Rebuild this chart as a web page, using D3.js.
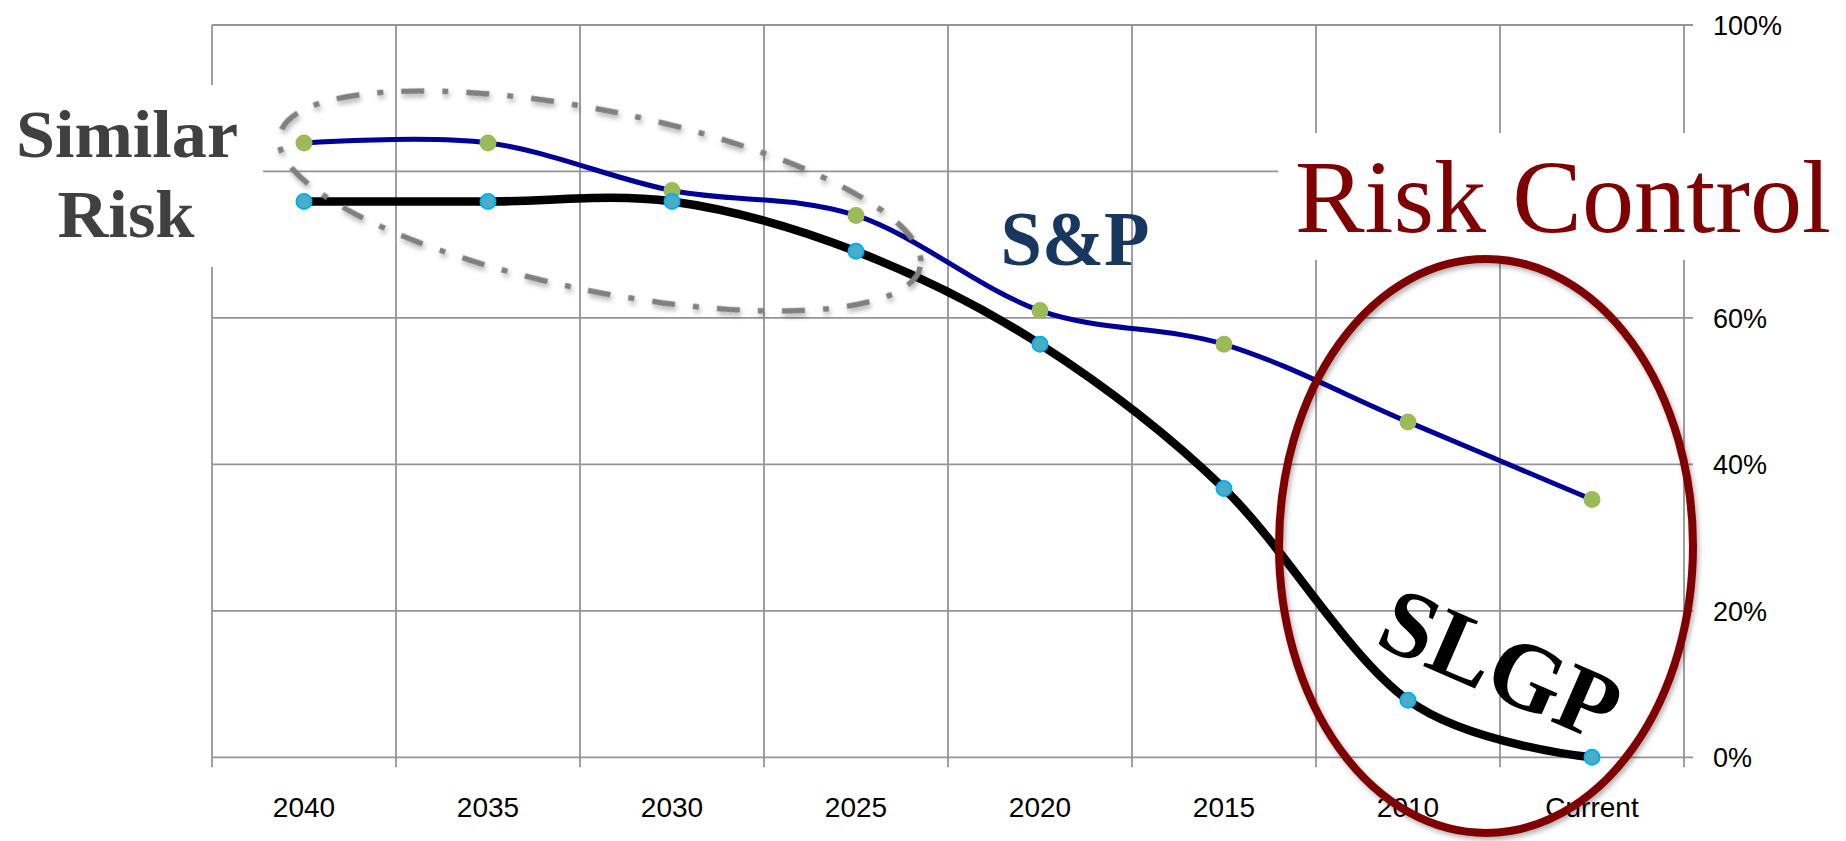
<!DOCTYPE html>
<html>
<head>
<meta charset="utf-8">
<script src="https://cdn.jsdelivr.net/npm/d3@7/dist/d3.min.js"></script>
<style>
  html, body { margin: 0; padding: 0; background: #ffffff; }
  svg { display: block; }
</style>
</head>
<body>
<svg id="chart" width="1846" height="841"></svg>
<script>
// ---- data ----
const categories = ["2040", "2035", "2030", "2025", "2020", "2015", "2010", "Current"];
const spValues   = [83.9, 83.9, 77.4, 74.0, 61.0, 56.4, 45.8, 35.2];
const slgpValues = [75.9, 75.9, 75.9, 69.1, 56.4, 36.7, 7.8, 0.0];
const yGridValues  = [0, 20, 40, 60, 80, 100];
const yLabelValues = [0, 20, 40, 60, 100]; // 80% label is hidden behind the "Risk Control" box
const yTickFormat = d => d + "%";

// ---- layout ----
const W = 1846, H = 841;
const plot = { left: 212, right: 1684, top: 25, bottom: 757.3 };

const svg = d3.select("#chart");

const defs = svg.append("defs");
const sh = defs.append("filter").attr("id", "shadow")
  .attr("x", "-10%").attr("y", "-10%").attr("width", "120%").attr("height", "120%");
sh.append("feDropShadow").attr("dx", 2).attr("dy", 3).attr("stdDeviation", 2.5)
  .attr("flood-color", "#000").attr("flood-opacity", 0.3);

const x = d3.scaleBand().domain(categories).range([plot.left, plot.right]).padding(0);
const y = d3.scaleLinear().domain([0, 100]).range([plot.bottom, plot.top]);

const gridColor = "#959595";

// horizontal gridlines (extend to the right as tick marks)
svg.append("g").selectAll("line").data(yGridValues).join("line")
  .attr("x1", plot.left).attr("x2", plot.right + 9)
  .attr("y1", d => y(d)).attr("y2", d => y(d))
  .attr("stroke", gridColor).attr("stroke-width", 1.8);

// vertical gridlines at category boundaries (extend below as tick marks)
const bounds = categories.map(c => x(c)).concat([x(categories[categories.length - 1]) + x.bandwidth()]);
svg.append("g").selectAll("line").data(bounds).join("line")
  .attr("x1", d => d).attr("x2", d => d)
  .attr("y1", plot.top).attr("y2", plot.bottom + 10)
  .attr("stroke", gridColor).attr("stroke-width", 1.8);

// right value labels
svg.append("g").selectAll("text").data(yLabelValues).join("text")
  .attr("x", plot.right + 29).attr("y", d => y(d)).attr("dy", "0.36em")
  .attr("font-family", "Liberation Sans, Arial, sans-serif").attr("font-size", 27)
  .attr("fill", "#000").text(yTickFormat);

// x category labels
svg.append("g").selectAll("text").data(categories).join("text")
  .attr("x", d => x(d) + x.bandwidth() / 2).attr("y", 817)
  .attr("text-anchor", "middle")
  .attr("font-family", "Liberation Sans, Arial, sans-serif").attr("font-size", 28)
  .attr("fill", "#000").text(d => d);

// white text boxes covering the grid
svg.append("rect").attr("x", 0).attr("y", 85).attr("width", 263).attr("height", 182).attr("fill", "#fff");
svg.append("rect").attr("x", 1278).attr("y", 133).attr("width", W - 1278).attr("height", 127).attr("fill", "#fff");

// lines
const line = d3.line()
  .x((d, i) => x(categories[i]) + x.bandwidth() / 2)
  .y(d => y(d))
  .curve(d3.curveCardinal.tension(0));

svg.append("path").datum(spValues).attr("d", line)
  .attr("fill", "none").attr("stroke", "#000096").attr("stroke-width", 5)
  .attr("stroke-linejoin", "round").attr("stroke-linecap", "round");
svg.append("g").selectAll("circle").data(spValues).join("circle")
  .attr("cx", (d, i) => x(categories[i]) + x.bandwidth() / 2).attr("cy", d => y(d))
  .attr("r", 8.5).attr("fill", "#9BBB59");

svg.append("path").datum(slgpValues).attr("d", line)
  .attr("fill", "none").attr("stroke", "#000").attr("stroke-width", 8.5)
  .attr("stroke-linejoin", "round").attr("stroke-linecap", "round");
svg.append("g").selectAll("circle").data(slgpValues).join("circle")
  .attr("cx", (d, i) => x(categories[i]) + x.bandwidth() / 2).attr("cy", d => y(d))
  .attr("r", 7.5).attr("fill", "#4BACC6").attr("stroke", "#00B0F0").attr("stroke-width", 2);

// dash-dot ellipse around the similar-risk region
svg.append("ellipse")
  .attr("cx", 0).attr("cy", 0).attr("rx", 327).attr("ry", 90)
  .attr("transform", "translate(600,201) rotate(11.6)")
  .attr("fill", "none").attr("stroke", "#808080").attr("stroke-width", 5.5)
  .attr("stroke-dasharray", "23 18 6 18").attr("filter", "url(#shadow)");

// risk control ellipse
svg.append("ellipse")
  .attr("cx", 1486).attr("cy", 546).attr("rx", 207).attr("ry", 287)
  .attr("fill", "none").attr("stroke", "#7F0000").attr("stroke-width", 8)
  .attr("filter", "url(#shadow)");

// annotations
const serif = "Liberation Serif, 'DejaVu Serif', serif";
svg.append("text").attr("x", 127).attr("y", 157).attr("text-anchor", "middle")
  .attr("font-family", serif).attr("font-weight", "bold").attr("font-size", 68)
  .attr("fill", "#404040").attr("textLength", 222).attr("lengthAdjust", "spacingAndGlyphs")
  .text("Similar");
svg.append("text").attr("x", 126).attr("y", 237).attr("text-anchor", "middle")
  .attr("font-family", serif).attr("font-weight", "bold").attr("font-size", 68)
  .attr("fill", "#404040").attr("textLength", 137).attr("lengthAdjust", "spacingAndGlyphs")
  .text("Risk");

svg.append("text").attr("x", 1075).attr("y", 265).attr("text-anchor", "middle")
  .attr("font-family", serif).attr("font-weight", "bold").attr("font-size", 78)
  .attr("fill", "#17375E").attr("textLength", 149).attr("lengthAdjust", "spacingAndGlyphs")
  .text("S&P");

svg.append("text").attr("x", 1295).attr("y", 232)
  .attr("font-family", serif).attr("font-size", 104)
  .attr("fill", "#7F0000").attr("textLength", 536).attr("lengthAdjust", "spacingAndGlyphs")
  .text("Risk Control");

svg.append("text").attr("transform", "translate(1373,644) rotate(23.5)")
  .attr("x", 0).attr("y", 0)
  .attr("font-family", serif).attr("font-weight", "bold").attr("font-size", 96)
  .attr("fill", "#000").attr("textLength", 250).attr("lengthAdjust", "spacingAndGlyphs")
  .text("SLGP");
</script>
</body>
</html>
